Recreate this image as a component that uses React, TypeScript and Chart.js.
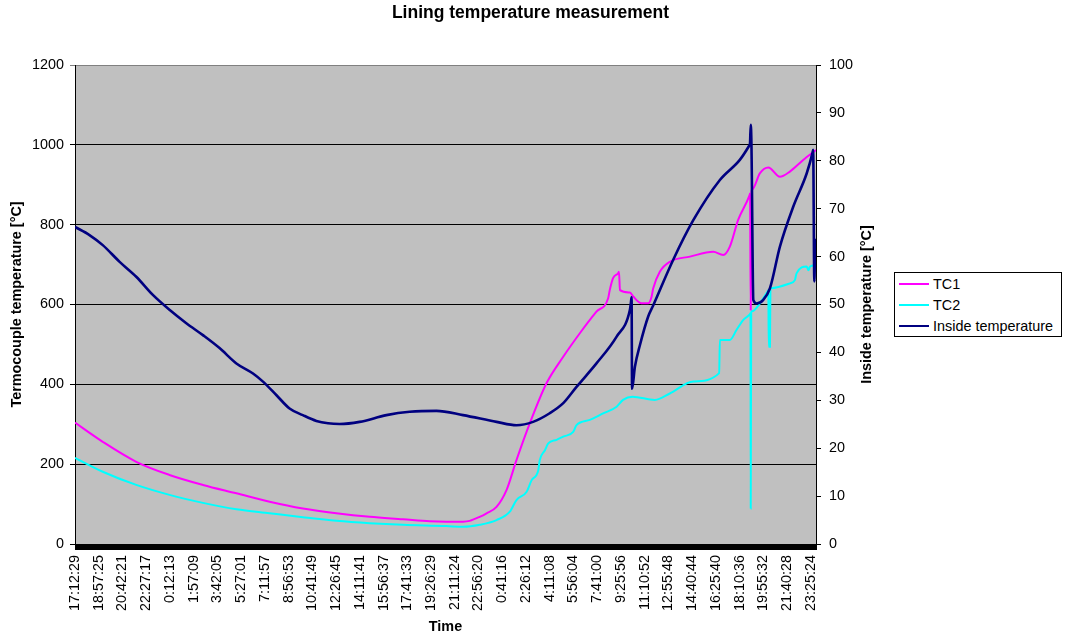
import React, { useEffect, useRef } from 'react';
import { Chart, registerables } from 'chart.js';

Chart.register(...registerables);

const FONT = "'Liberation Sans', Arial, Helvetica, sans-serif";

// Category tick labels (one every 1:44:56)
const timeLabels = [
  '17:12:29', '18:57:25', '20:42:21', '22:27:17', '0:12:13', '1:57:09', '3:42:05', '5:27:01',
  '7:11:57', '8:56:53', '10:41:49', '12:26:45', '14:11:41', '15:56:37', '17:41:33', '19:26:29',
  '21:11:24', '22:56:20', '0:41:16', '2:26:12', '4:11:08', '5:56:04', '7:41:00', '9:25:56',
  '11:10:52', '12:55:48', '14:40:44', '16:25:40', '18:10:36', '19:55:32', '21:40:28', '23:25:24',
];

// x positions are measured in label intervals (0 = 17:12:29)
const X_MAX = 31.22;

const tc1X = [
  0, 1.17, 2.58, 3.98, 5.39, 6.8, 8.2, 9.6, 11.01, 12.42, 13.82, 14.95, 15.65, 16.35, 16.63,
  17.05, 17.34, 17.76, 18.18, 18.6, 19.16, 19.86, 20.57, 21.27, 21.97, 22.46, 22.53, 22.67,
  22.88, 22.92, 22.96, 23.38, 23.52, 23.87, 24.15, 24.29, 24.36, 24.64, 25.06, 25.91, 26.89,
  27.31, 27.59, 27.94, 28.41, 28.44, 28.47, 28.5, 28.53, 28.86, 29.21, 29.7, 30.12, 30.68, 31.22,
];
const tc1Y = [
  304, 256, 206, 173, 148, 127, 106, 89, 77, 68, 62, 57, 56, 56, 58,
  68, 77, 93, 135, 210, 302, 402, 469, 528, 582, 615, 636, 666,
  678, 682, 636, 630, 620, 603, 603, 619, 640, 682, 707, 720, 732,
  724, 745, 812, 872, 878, 586, 883, 888, 929, 943, 920, 933, 962, 987,
];

const tc2X = [
  0, 1.17, 2.58, 3.98, 5.39, 6.8, 8.2, 9.6, 11.01, 12.42, 13.82, 15.65, 16.35, 17.05, 17.76,
  18.32, 18.6, 19.03, 19.24, 19.52, 19.58, 19.8, 19.94, 20.29, 20.57, 20.99, 21.13, 21.69,
  22.25, 22.82, 23.09, 23.49, 24.43, 25.06, 26.05, 27.14, 27.17, 27.59, 27.87, 28.15, 28.43,
  28.46, 28.47, 28.49, 28.52, 28.86, 29.19, 29.21, 29.23, 29.28, 29.3, 29.32, 30.12, 30.33,
  30.4, 30.83, 30.9, 30.97, 31.22,
];
const tc2Y = [
  216, 181, 148, 123, 103, 87, 77, 67, 58, 52, 48, 45, 43, 48, 60,
  81, 110, 131, 160, 185, 210, 235, 252, 261, 269, 281, 298, 311,
  327, 344, 361, 369, 361, 377, 407, 428, 511, 511, 536, 561, 575,
  578, 89, 580, 583, 603, 634, 636, 494, 494, 640, 641, 653, 661,
  678, 695, 686, 695, 699,
];

const insideX = [
  0, 0.61, 1.17, 1.88, 2.58, 3.28, 3.98, 4.69, 5.39, 6.09, 6.8, 7.5, 7.92, 8.48, 9.04, 9.6,
  10.17, 10.66, 11.15, 11.99, 13.12, 14.1, 15.23, 16.35, 17.76, 18.6, 19.3, 20.0, 20.57, 21.13,
  21.97, 22.82, 23.38, 23.42, 23.45, 23.47, 23.59, 23.8, 24.15, 24.36, 25.2, 26.05, 27.17,
  28.01, 28.41, 28.44, 28.47, 28.5, 28.58, 28.72, 28.99, 29.28, 29.7, 30.26, 30.83, 31.07,
  31.1, 31.15, 31.19, 31.22,
];
const insideY = [
  66.2, 64.5, 62.4, 58.9, 55.8, 52.0, 48.9, 46.1, 43.6, 40.9, 37.7, 35.6, 33.9, 31.1, 28.3, 26.9,
  25.7, 25.2, 25.05, 25.5, 26.9, 27.6, 27.8, 26.9, 25.5, 24.8, 25.5, 27.3, 29.4, 32.8,
  37.7, 43.3, 48.9, 50.3, 51.5, 32.4, 37.0, 41.5, 47.5, 49.8, 59.3, 67.6, 76.0,
  80.2, 83.2, 83.7, 87.5, 83.5, 50.9, 50.2, 50.9, 53.4, 62.1, 70.4, 77.4, 81.6,
  82.3, 54.8, 63.5, 61,
];

const series = [
  { label: 'TC1', color: '#FF00FF' },
  { label: 'TC2', color: '#00FFFF' },
  { label: 'Inside temperature', color: '#000080' },
];

const toPoints = (xs: number[], ys: number[]) => xs.map((x, i) => ({ x, y: ys[i] }));

const plotBackground = {
  id: 'plotBackground',
  beforeDraw(chart: any) {
    const { ctx, chartArea } = chart;
    ctx.save();
    ctx.fillStyle = '#C0C0C0';
    ctx.fillRect(chartArea.left, chartArea.top, chartArea.right - chartArea.left, chartArea.bottom - chartArea.top);
    ctx.restore();
  },
};

const tickBand = {
  id: 'tickBand',
  afterDraw(chart: any) {
    const { ctx, chartArea } = chart;
    ctx.save();
    ctx.fillStyle = '#000';
    ctx.fillRect(chartArea.left, chartArea.bottom, chartArea.right - chartArea.left + 1, 6);
    ctx.restore();
  },
};

const rightTitle = {
  id: 'rightTitle',
  afterDraw(chart: any) {
    const { ctx, chartArea } = chart;
    ctx.save();
    ctx.translate(chartArea.right + 51, (chartArea.top + chartArea.bottom) / 2);
    ctx.rotate(-Math.PI / 2);
    ctx.font = `bold 14.4px ${FONT}`;
    ctx.fillStyle = '#000';
    ctx.textAlign = 'center';
    ctx.textBaseline = 'middle';
    ctx.fillText('Inside temperature [°C]', 0, 0);
    ctx.restore();
  },
};

export default function App() {
  const canvasRef = useRef<HTMLCanvasElement | null>(null);

  useEffect(() => {
    if (!canvasRef.current) return;
    const tickFont = { family: FONT, size: 14.4 };
    const titleFont = { family: FONT, size: 14.4, weight: 'bold' as const };
    const lineStyle = {
      pointRadius: 0,
      tension: 0.4,
      cubicInterpolationMode: 'monotone' as const,
    };
    const chart = new Chart(canvasRef.current, {
      type: 'line',
      data: {
        datasets: [
          {
            label: series[0].label,
            data: toPoints(tc1X, tc1Y),
            borderColor: series[0].color,
            borderWidth: 2,
            yAxisID: 'y',
            order: 3,
            ...lineStyle,
          },
          {
            label: series[1].label,
            data: toPoints(tc2X, tc2Y),
            borderColor: series[1].color,
            borderWidth: 2,
            yAxisID: 'y',
            order: 2,
            ...lineStyle,
          },
          {
            label: series[2].label,
            data: toPoints(insideX, insideY),
            borderColor: series[2].color,
            borderWidth: 2.6,
            yAxisID: 'y1',
            order: 1,
            ...lineStyle,
          },
        ],
      },
      options: {
        responsive: false,
        animation: false,
        layout: { padding: { left: 0, right: 8, top: 0, bottom: 0 } },
        plugins: {
          legend: { display: false },
          tooltip: { enabled: false },
          title: {
            display: true,
            text: 'Lining temperature measurement',
            color: '#000',
            font: { family: FONT, size: 17.5, weight: 'bold' },
            padding: { top: 3, bottom: 41 },
          },
        },
        scales: {
          x: {
            type: 'linear',
            min: 0,
            max: X_MAX,
            afterBuildTicks: (scale: any) => {
              scale.ticks = timeLabels.map((_, i) => ({ value: i }));
            },
            afterFit: (scale: any) => {
              scale.height = 94;
            },
            ticks: {
              autoSkip: false,
              minRotation: 90,
              maxRotation: 90,
              padding: 5,
              color: '#000',
              font: tickFont,
              callback: (v: any) => timeLabels[Math.round(Number(v))] ?? '',
            },
            grid: { drawOnChartArea: false, drawTicks: true, tickLength: 6, color: 'rgba(0,0,0,0)' },
            border: { display: false },
            title: {
              display: true,
              text: 'Time',
              color: '#000',
              font: titleFont,
              padding: { top: 0, bottom: 2 },
            },
          },
          y: {
            position: 'left',
            min: 0,
            max: 1200,
            afterFit: (scale: any) => {
              scale.width = 75;
            },
            ticks: { stepSize: 200, padding: 6, color: '#000', font: tickFont, callback: (v: any) => String(v) },
            grid: {
              color: (ctx: any) => (ctx.tick && ctx.tick.value === 1200 ? '#808080' : '#000'),
              tickLength: 5,
              drawTicks: true,
            },
            border: { display: true, color: '#000' },
            title: {
              display: true,
              text: 'Termocouple temperature [°C]',
              color: '#000',
              font: titleFont,
              padding: { top: 8, bottom: 0 },
            },
          },
          y1: {
            position: 'right',
            min: 0,
            max: 100,
            afterFit: (scale: any) => {
              scale.width = 245;
            },
            ticks: { stepSize: 10, padding: 8, color: '#000', font: tickFont, callback: (v: any) => String(v) },
            grid: { drawOnChartArea: false, tickLength: 5, color: '#000' },
            border: { display: true, color: '#000' },
          },
        },
      },
      plugins: [plotBackground, tickBand, rightTitle],
    });
    return () => chart.destroy();
  }, []);

  return (
    <div style={{ position: 'fixed', left: 0, top: 0, width: 1069, height: 638, background: '#fff' }}>
      <canvas ref={canvasRef} width={1069} height={638} style={{ display: 'block' }} />
      <div
        style={{
          position: 'absolute',
          left: 894,
          top: 272,
          width: 166,
          height: 63,
          border: '1px solid #000',
          background: '#fff',
          fontFamily: FONT,
          fontSize: 14.4,
          color: '#000',
        }}
      >
        {series.map((s) => (
          <div key={s.label} style={{ display: 'flex', alignItems: 'center', height: 21, paddingLeft: 4 }}>
            <span style={{ display: 'inline-block', width: 30, height: 2, background: s.color, marginRight: 4 }} />
            <span style={{ whiteSpace: 'nowrap' }}>{s.label}</span>
          </div>
        ))}
      </div>
    </div>
  );
}
